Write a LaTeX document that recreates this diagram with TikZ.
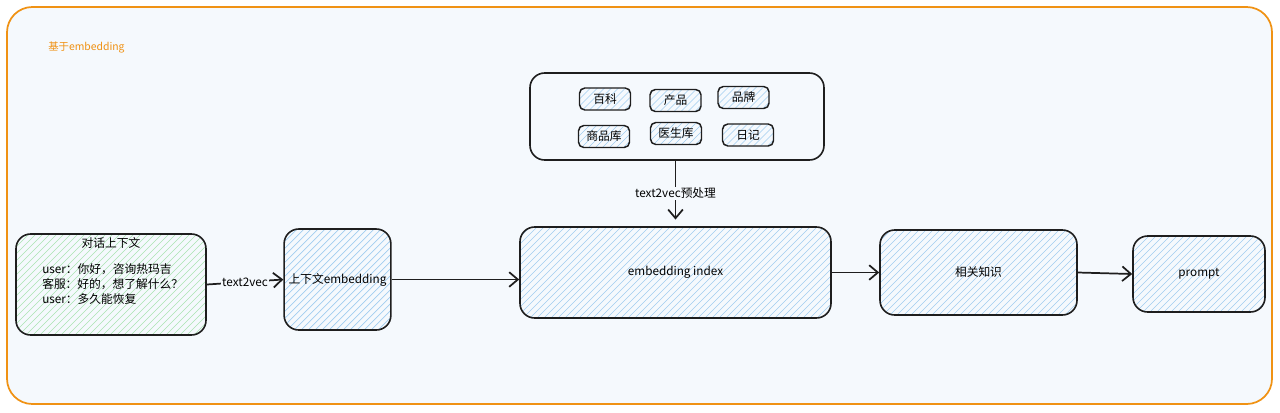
\documentclass[tikz,border=0pt]{standalone}
\usepackage{fontspec}
\setmainfont{Noto Sans CJK SC}
\usetikzlibrary{arrows.meta,calc}

\definecolor{ink}{RGB}{30,30,30}
\definecolor{frameorange}{RGB}{240,146,20}
\definecolor{pagebg}{RGB}{245,249,253}
\definecolor{hatchblue}{RGB}{160,205,240}
\definecolor{hatchgreen}{RGB}{170,228,178}

\tikzset{
  hatch/.style={path picture={
    \foreach \k in {0,...,80}
      \draw[#1, line width=0.45pt] ($(path picture bounding box.south west)+(-130+\k*7,0)$) -- ++(300,300);}},
  box/.style={draw=ink, line width=1.2pt, rounded corners=11pt, hatch=hatchblue,
    font=\fontsize{8.8}{10}\selectfont},
  greenbox/.style={draw=ink, line width=1.2pt, rounded corners=11pt, hatch=hatchgreen},
  srcbox/.style={draw=ink, line width=1.2pt, rounded corners=11pt},
  tag/.style={draw=ink, line width=1.1pt, rounded corners=4pt, hatch=hatchblue,
    minimum width=38.25pt, minimum height=16.5pt, inner sep=0pt,
    font=\fontsize{8.8}{10}\selectfont},
  arr/.style={draw=ink, line width=1.3pt, -{Straight Barb[length=6.5pt,width=11pt,line width=1.3pt]}},
  lbl/.style={fill=pagebg, inner sep=1pt, font=\fontsize{8.8}{10}\selectfont}
}

\begin{document}
\begin{tikzpicture}[x=0.75pt,y=0.75pt,yscale=-1,xscale=1]
\useasboundingbox (0,0) rectangle (1280,412);
\fill[white] (0,0) rectangle (1280,412);

% outer frame
\draw[draw=frameorange, line width=1.3pt, fill=pagebg, rounded corners=19pt] (7,7) rectangle (1272,404);
\node[anchor=west, text=frameorange, inner sep=0pt, font=\fontsize{7.8}{9}\selectfont] (title) at (48,47) {基于embedding};

% knowledge sources
\node[srcbox, minimum width=220.5pt, minimum height=65.25pt] (src) at (677,116.5) {};
\node[tag] (baike) at (605,99) {百科};
\node[tag] (chanpin) at (675.5,100.5) {产品};
\node[tag] (pinpai) at (743.5,97.5) {品牌};
\node[tag] (shangpin) at (604,136.5) {商品库};
\node[tag] (yisheng) at (676,133.5) {医生库};
\node[tag] (riji) at (748,135) {日记};

% main chain
\node[greenbox, minimum width=142.5pt, minimum height=75.75pt] (dlg) at (111,284.5) {};
\node[font=\fontsize{8.8}{10}\selectfont, inner sep=0pt] (dlgtitle) at (111,243) {对话上下文};
\node[anchor=north west, align=left, inner sep=0pt, font=\fontsize{8.8}{11.3}\selectfont] (dlgtext) at (42,263)
  {user：你好，咨询热玛吉\\客服：好的，想了解什么？\\user：多久能恢复};
\node[box, minimum width=78.75pt, minimum height=75.75pt] (ctx) at (337.5,279.5) {上下文embedding};
\node[box, minimum width=233.25pt, minimum height=68.25pt] (idx) at (675.5,272.5) {embedding index};
\node[box, minimum width=147.75pt, minimum height=63.75pt] (know) at (978.5,272.5) {相关知识};
\node[box, minimum width=99pt, minimum height=57pt] (prompt) at (1199,274) {prompt};

% connectors
\draw[arr] (dlg.east) -- node[lbl] {text2vec} (ctx.west);
\draw[arr] (ctx.east) -- (idx.west |- ctx.east);
\draw[arr] (idx.east) -- (know.west);
\draw[arr] (know.east) -- (prompt.west);
\draw[arr, shorten >=5pt] (src.south -| idx.north) -- node[lbl] {text2vec预处理} (idx.north);
\end{tikzpicture}
\end{document}
